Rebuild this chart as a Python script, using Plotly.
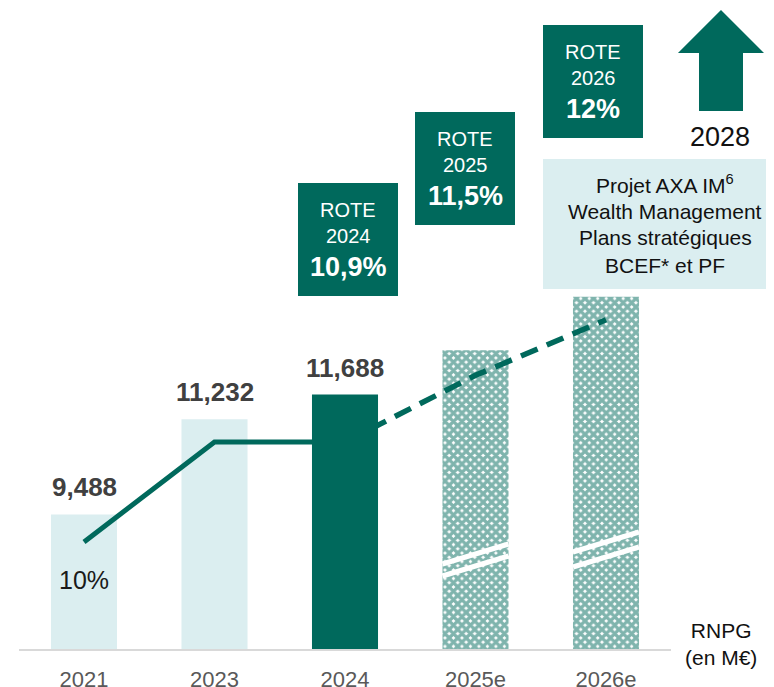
import plotly.graph_objects as go

# ---- data ----
categories = ["2021", "2023", "2024", "2025e", "2026e"]
rnpg_actual_light = [9488, 11232]          # 2021, 2023
rnpg_2024 = [11688]                        # 2024
rnpg_estimates = [12500, 13480]            # 2025e, 2026e (hatched, no label)
rote_solid = [10.0, 10.9, 10.9]            # 2021, 2023, 2024
rote_dashed = [10.9, 11.5, 12.0]           # 2024, 2025e, 2026e
rote_boxes = [("2024", "10,9%"), ("2025", "11,5%"), ("2026", "12%")]
bar_labels = ["9,488", "11,232", "11,688"]

# ---- layout helpers (page pixel -> paper) ----
W, H = 774, 687
OFF = 8                      # page offset of the figure div
PAGE_TOP, PAGE_BOTTOM = 10, 650
L = 0
T = PAGE_TOP - OFF
PH = PAGE_BOTTOM - PAGE_TOP
PW = W


def px(x):
    return (x - OFF - L) / PW


def py(y):
    return (PAGE_BOTTOM - y) / PH


DARK = "#00695c"
LIGHT = "#dbeef0"
FONT = "Liberation Sans, Arial, sans-serif"
BW = 0.506

fig = go.Figure()

fig.add_trace(go.Bar(x=categories[:2], y=rnpg_actual_light, width=BW,
                     marker=dict(color=LIGHT, line=dict(width=0)),
                     yaxis="y", hoverinfo="skip"))
fig.add_trace(go.Bar(x=categories[3:], y=rnpg_estimates, width=BW,
                     marker=dict(color="white", line=dict(width=0),
                                 pattern=dict(shape="x", fgcolor=DARK, bgcolor="white",
                                              size=6, solidity=0.8)),
                     yaxis="y", hoverinfo="skip"))
fig.add_trace(go.Scatter(x=categories[:3], y=rote_solid, mode="lines",
                         line=dict(color=DARK, width=5), yaxis="y2", hoverinfo="skip"))
fig.add_trace(go.Scatter(x=categories[2:], y=rote_dashed, mode="lines",
                         line=dict(color=DARK, width=5.5, dash="18px,10px"),
                         yaxis="y2", hoverinfo="skip"))
fig.add_trace(go.Bar(x=[categories[2]], y=rnpg_2024, width=BW,
                     marker=dict(color=DARK, line=dict(width=0)),
                     yaxis="y3", hoverinfo="skip"))

YR = [7000, 7000 + PH / 0.0545]
Y2R = [10.0 - 108 / 111.11, 10.0 - 108 / 111.11 + PH / 111.11]
cat_step = 130.5
x0 = -(84 - OFF - L) / cat_step
XR = [x0, x0 + PW / cat_step]

annotations = []
# bar value labels
for i, (val, lab) in enumerate(zip(rnpg_actual_light + rnpg_2024, bar_labels)):
    annotations.append(dict(x=i, y=val, xref="x", yref="y", text=f"<b>{lab}</b>",
                            showarrow=False, yanchor="middle", yshift=27,
                            font=dict(family=FONT, size=26, color="#404040")))
# 10% label
annotations.append(dict(x=0, y=rote_solid[0], xref="x", yref="y2", text="10%",
                        showarrow=False, yanchor="middle", yshift=-38,
                        font=dict(family=FONT, size=25, color="#1a1a1a")))

shapes = []
# ROTE boxes
box_pos = [(298, 183), (415, 112), (543, 25)]
for (year, val), (bx, by) in zip(rote_boxes, box_pos):
    shapes.append(dict(type="rect", xref="paper", yref="paper",
                       x0=px(bx), x1=px(bx + 100), y0=py(by + 113), y1=py(by),
                       fillcolor=DARK, line=dict(width=0), layer="above"))
    cx = px(bx + 50)
    annotations.append(dict(x=cx, y=py(by + 27), xref="paper", yref="paper", text="ROTE",
                            showarrow=False, xanchor="center", yanchor="middle",
                            font=dict(family=FONT, size=20, color="white")))
    annotations.append(dict(x=cx, y=py(by + 53), xref="paper", yref="paper", text=year,
                            showarrow=False, xanchor="center", yanchor="middle",
                            font=dict(family=FONT, size=20, color="white")))
    annotations.append(dict(x=cx, y=py(by + 84), xref="paper", yref="paper", text=f"<b>{val}</b>",
                            showarrow=False, xanchor="center", yanchor="middle",
                            font=dict(family=FONT, size=27, color="white")))

# light info box
shapes.append(dict(type="rect", xref="paper", yref="paper",
                   x0=px(543), x1=px(790), y0=py(289), y1=py(159),
                   fillcolor=LIGHT, line=dict(width=0), layer="above"))
info_lines = ["Projet AXA IM<sup>6</sup>", "Wealth Management", "Plans stratégiques", "BCEF* et PF"]
for i, t in enumerate(info_lines):
    annotations.append(dict(x=px(665), y=py(184 + 27 * i), xref="paper", yref="paper", text=t,
                            showarrow=False, xanchor="center", yanchor="middle",
                            font=dict(family=FONT, size=21, color="#111111")))

# arrow
arrow_pts = [(721, 10), (764, 53), (743, 53), (743, 111), (699, 111), (699, 53), (678, 53)]
path = "M " + " L ".join(f"{px(a):.5f},{py(b):.5f}" for a, b in arrow_pts) + " Z"
shapes.append(dict(type="path", xref="paper", yref="paper", path=path,
                   fillcolor=DARK, line=dict(width=0)))
annotations.append(dict(x=px(720), y=py(137), xref="paper", yref="paper", text="2028",
                        showarrow=False, xanchor="center", yanchor="middle",
                        font=dict(family=FONT, size=27, color="#111111")))

# RNPG label
annotations.append(dict(x=px(721), y=py(644), xref="paper", yref="paper",
                        text="RNPG<br>(en M€)", showarrow=False, xanchor="center",
                        yanchor="middle", align="center",
                        font=dict(family=FONT, size=21, color="#111111")))

# baseline
shapes.append(dict(type="line", xref="paper", yref="paper", x0=px(19), x1=px(671),
                   y0=py(650), y1=py(650), line=dict(color="#d9d9d9", width=2)))

# break marks on estimate bars
for i, (l1, r1, l2, r2) in zip([3, 4], [(564, 544, 576, 556), (552, 532, 567, 547)]):
    for yl, yr in [(l1, r1), (l2, r2)]:
        shapes.append(dict(type="line", xref="x", yref="paper",
                           x0=i - BW / 2, x1=i + BW / 2, y0=py(yl), y1=py(yr),
                           line=dict(color="white", width=5)))

fig.update_layout(
    width=W, height=H,
    margin=dict(l=L, r=W - L - PW, t=T, b=H - T - PH, autoexpand=False),
    paper_bgcolor="white", plot_bgcolor="white",
    barmode="overlay", showlegend=False,
    xaxis=dict(type="category", categoryorder="array", categoryarray=categories,
               range=XR, showgrid=False, zeroline=False, showline=False, ticks="",
               tickfont=dict(family=FONT, size=22, color="#595959"),
               ticklabelstandoff=14, automargin=False),
    yaxis=dict(range=YR, visible=False, showgrid=False),
    yaxis2=dict(range=Y2R, visible=False, overlaying="y", showgrid=False),
    yaxis3=dict(range=YR, visible=False, overlaying="y", showgrid=False),
    annotations=annotations, shapes=shapes,
)

fig.write_html("out.html")
